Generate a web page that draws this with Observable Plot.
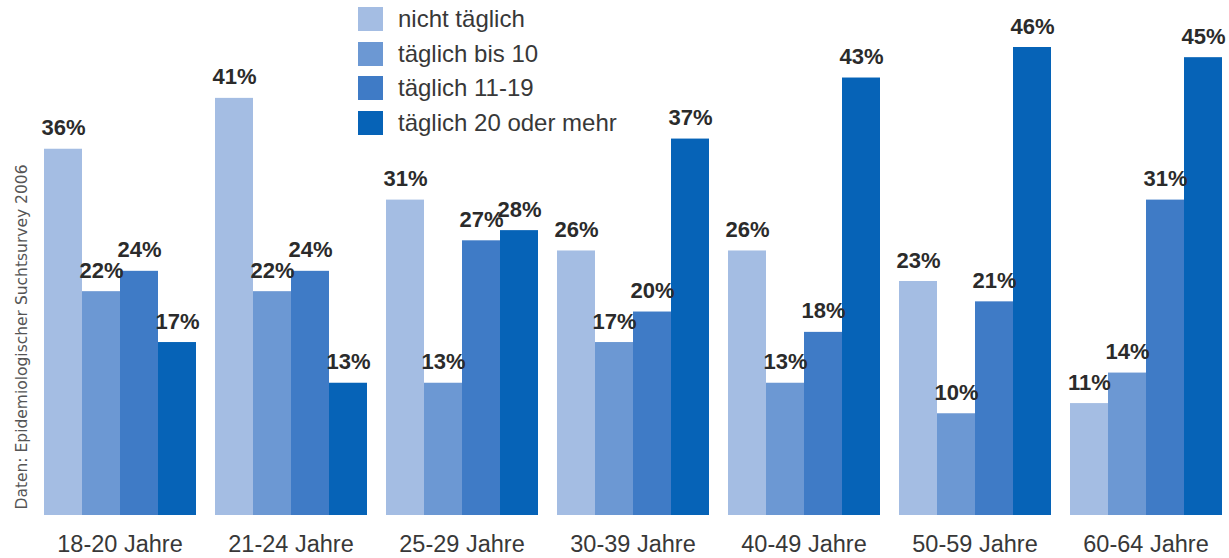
<!DOCTYPE html>
<html>
<head>
<meta charset="utf-8">
<script src="https://cdn.jsdelivr.net/npm/d3@7"></script>
<script src="https://cdn.jsdelivr.net/npm/@observablehq/plot@0.6"></script>
<style>
  html, body { margin: 0; padding: 0; background: #ffffff; }
  #wrap { position: relative; width: 1229px; height: 558px; overflow: hidden; font-family: "Liberation Sans", Arial, sans-serif; }
  #legend { position: absolute; left: 358px; top: 2px; }
  .row { display: flex; align-items: center; height: 34.5px; }
  .sw { width: 25px; height: 24px; margin-right: 15px; }
  .lab { font-size: 24px; color: #383838; white-space: nowrap; line-height: 1; }
  #source { position: absolute; left: 22px; top: 337px; transform: translate(-50%, -50%) rotate(-90deg); font-family: "DejaVu Sans", sans-serif; font-size: 15.5px; color: #555; white-space: nowrap; }
</style>
</head>
<body>
<div id="wrap">
  <div id="chart"></div>
  <div id="legend"></div>
  <div id="source">Daten: Epidemiologischer Suchtsurvey 2006</div>
</div>
<script>
// ---- data ----
const groups = ["18-20 Jahre", "21-24 Jahre", "25-29 Jahre", "30-39 Jahre", "40-49 Jahre", "50-59 Jahre", "60-64 Jahre"];
const series = ["nicht täglich", "täglich bis 10", "täglich 11-19", "täglich 20 oder mehr"];
const nichtTaeglich = [36, 41, 31, 26, 26, 23, 11];
const taeglichBis10 = [22, 22, 13, 17, 13, 10, 14];
const taeglich11bis19 = [24, 24, 27, 20, 18, 21, 31];
const taeglich20mehr = [17, 13, 28, 37, 43, 46, 45];
const colors = ["#a4bde3", "#6c98d3", "#3f7bc6", "#0663b7"];

const seriesValues = [nichtTaeglich, taeglichBis10, taeglich11bis19, taeglich20mehr];
const rows = [];
groups.forEach((g, i) => {
  series.forEach((s, j) => rows.push({group: g, series: s, value: seriesValues[j][i]}));
});

const chart = Plot.plot({
  width: 1229,
  height: 558,
  marginLeft: 42,
  marginRight: 6,
  marginTop: 47,
  marginBottom: 43,
  style: {fontFamily: "Liberation Sans, Arial, sans-serif", fontSize: "23.5px", color: "#383838", background: "transparent"},
  facet: {data: rows, x: "group", marginBottom: 43},
  fx: {domain: groups, paddingInner: 0.094, paddingOuter: 0, label: null, axis: "bottom", tickSize: 0, tickPadding: 20},
  x: {domain: series, padding: 0, axis: null},
  y: {domain: [0, 46], axis: null},
  color: {domain: series, range: colors},
  marks: [
    Plot.barY(rows, {x: "series", y: "value", fill: "series"}),
    Plot.text(rows, {x: "series", y: "value", text: d => d.value + "%", dy: -21, fontWeight: "bold", fontSize: 22, fill: "#2b2b2b"})
  ]
});
document.getElementById("chart").appendChild(chart);

const legend = document.getElementById("legend");
series.forEach((s, i) => {
  const r = document.createElement("div");
  r.className = "row";
  r.innerHTML = `<div class="sw" style="background:${colors[i]}"></div><div class="lab">${s}</div>`;
  legend.appendChild(r);
});
</script>
</body>
</html>
